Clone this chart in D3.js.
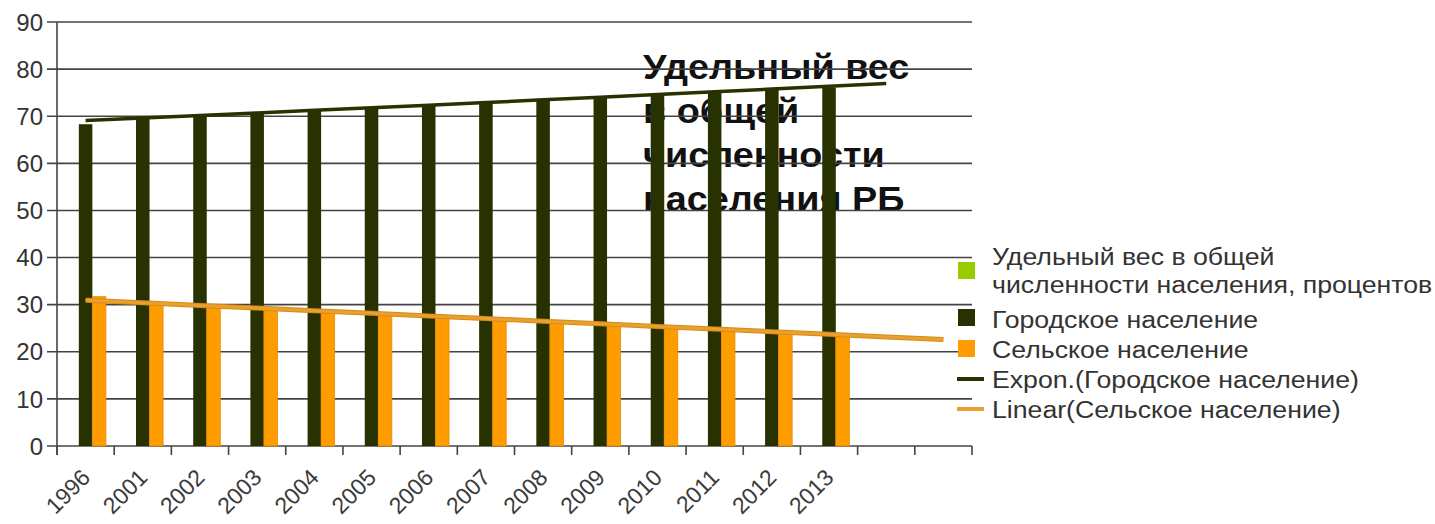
<!DOCTYPE html>
<html><head><meta charset="utf-8">
<script src="https://cdn.jsdelivr.net/npm/d3@7"></script>
<style>body{margin:0;background:#fff}svg{display:block}text{font-family:"Liberation Sans",Arial,sans-serif}</style>
</head><body>
<svg id="c" width="1435" height="524"></svg>
<script>
const categories = ["1996","2001","2002","2003","2004","2005","2006","2007","2008","2009","2010","2011","2012","2013","",""];
const seriesNames = ["Удельный вес в общей численности населения, процентов","Городское население","Сельское население"];
const shareValues = [];
const urbanValues = [68.3,69.9,70.3,70.8,71.4,71.9,72.4,73.1,73.7,74.1,74.6,75.1,75.6,76.1];
const ruralValues = [31.7,30.1,29.7,29.2,28.6,28.1,27.6,26.9,26.3,25.9,25.4,24.9,24.4,23.9];
const yTicks = [0,10,20,30,40,50,60,70,80,90];
const titleLines = ["Удельный вес","в общей","численности","населения РБ"];
const legendLabels = [["Удельный вес в общей","численности населения, процентов"],["Городское население"],["Сельское население"],["Expon.(Городское население)"],["Linear(Сельское население)"]];
const colors = {share:"#99cc00", urban:"#283200", rural:"#ff9c00", expTrend:"#283200", linTrend:"#e9a032"};

const svg = d3.select("#c");
const L = 57, R = 972, T = 22, B = 446;
const x = d3.scaleBand().domain(d3.range(categories.length)).range([L, R]).paddingInner(0.29).paddingOuter(0.145);
const xb = d3.scaleBand().domain(d3.range(categories.length)).range([L, R]);
const xs = d3.scaleBand().domain([0,1,2]).range([0, x.bandwidth()]);
const y = d3.scaleLinear().domain([0,90]).range([B, T]);

// title (drawn first so gridlines cross it)
svg.append("g").attr("transform", "translate(643,0) scale(1.08,1)")
  .append("text").attr("x", 0).attr("y", 79).attr("font-size", 35).attr("font-weight", "bold").attr("fill", "#111")
  .selectAll("tspan").data(titleLines).join("tspan").attr("x", 0).attr("dy", (d, i) => i ? 44 : 0).text(d => d);

// gridlines
svg.append("g").selectAll("line").data(yTicks).join("line")
  .attr("x1", L - 10).attr("x2", R).attr("y1", d => y(d)).attr("y2", d => y(d))
  .attr("stroke", "#444").attr("stroke-width", 1.6);
// y axis
svg.append("line").attr("x1", L).attr("x2", L).attr("y1", T).attr("y2", B + 9).attr("stroke", "#444").attr("stroke-width", 1.6);
svg.append("g").selectAll("text").data(yTicks).join("text")
  .attr("x", L - 14).attr("y", d => y(d)).attr("dy", "0.36em").attr("text-anchor", "end")
  .attr("font-size", 24).attr("fill", "#333").text(d => d);
// x ticks
svg.append("g").selectAll("line").data(d3.range(categories.length + 1)).join("line")
  .attr("x1", i => L + i * xb.step()).attr("x2", i => L + i * xb.step())
  .attr("y1", B).attr("y2", B + 9).attr("stroke", "#444").attr("stroke-width", 1.6);
svg.append("g").selectAll("text").data(categories).join("text")
  .attr("transform", (d, i) => `translate(${xb(i) + xb.bandwidth()/2 + 6},${B + 33}) rotate(-45)`)
  .attr("text-anchor", "end").attr("font-size", 23).attr("fill", "#3a3a3a").text(d => d);

// bars
const drawBars = (vals, si, col) => svg.append("g").selectAll("rect").data(vals).join("rect")
  .attr("x", (d, i) => x(i) + xs(si)).attr("width", xs.bandwidth())
  .attr("y", d => y(d)).attr("height", d => B - y(d)).attr("fill", col);
drawBars(shareValues, 0, colors.share);
drawBars(urbanValues, 1, colors.urban);
drawBars(ruralValues, 2, colors.rural).attr("stroke", "#e88a00").attr("stroke-width", 0.8);

// trendlines
const n = urbanValues.length;
const xsN = d3.range(1, n + 1);
const mean = a => d3.mean(a);
function linFit(xv, yv){ const mx = mean(xv), my = mean(yv); const b = d3.sum(xv.map((v,i)=>(v-mx)*(yv[i]-my)))/d3.sum(xv.map(v=>(v-mx)**2)); return [my - b*mx, b]; }
const [ea, eb] = linFit(xsN, urbanValues.map(Math.log));
const [la, lb] = linFit(xsN, ruralValues);
const cx = k => xb(k - 1) + xb.bandwidth()/2;
const expPts = d3.range(1, n + 2).map(k => [cx(k), y(Math.exp(ea + eb*k))]);
const linPts = d3.range(1, n + 3).map(k => [cx(k), y(la + lb*k)]);
svg.append("path").attr("d", d3.line()(expPts)).attr("fill","none").attr("stroke", colors.expTrend).attr("stroke-width", 3.5);
svg.append("path").attr("d", d3.line()(linPts)).attr("fill","none").attr("stroke", "#d98a10").attr("stroke-width", 5);
svg.append("path").attr("d", d3.line()(linPts)).attr("fill","none").attr("stroke", colors.linTrend).attr("stroke-width", 3);

// legend
const lg = svg.append("g");
const rows = [265, 328, 358, 388, 418];
const sqY = [262, 309, 340];
const sw = [colors.share, colors.urban, colors.rural];
rows.forEach((ry, i) => {
  if (i < 3) {
    lg.append("rect").attr("x", 958).attr("y", sqY[i]).attr("width", 17).attr("height", 17).attr("fill", sw[i]);
  } else {
    lg.append("line").attr("x1", 957).attr("x2", 984).attr("y1", ry - 9).attr("y2", ry - 9)
      .attr("stroke", i === 3 ? colors.expTrend : colors.linTrend).attr("stroke-width", 4);
  }
  const t = lg.append("g").attr("transform", `translate(992,${ry}) scale(1.16,1)`)
    .append("text").attr("x", 0).attr("y", 0).attr("font-size", 23).attr("fill", "#333");
  legendLabels[i].forEach((s, j) => t.append("tspan").attr("x", 0).attr("dy", j ? 28 : 0).text(s));
});
</script>
</body></html>
